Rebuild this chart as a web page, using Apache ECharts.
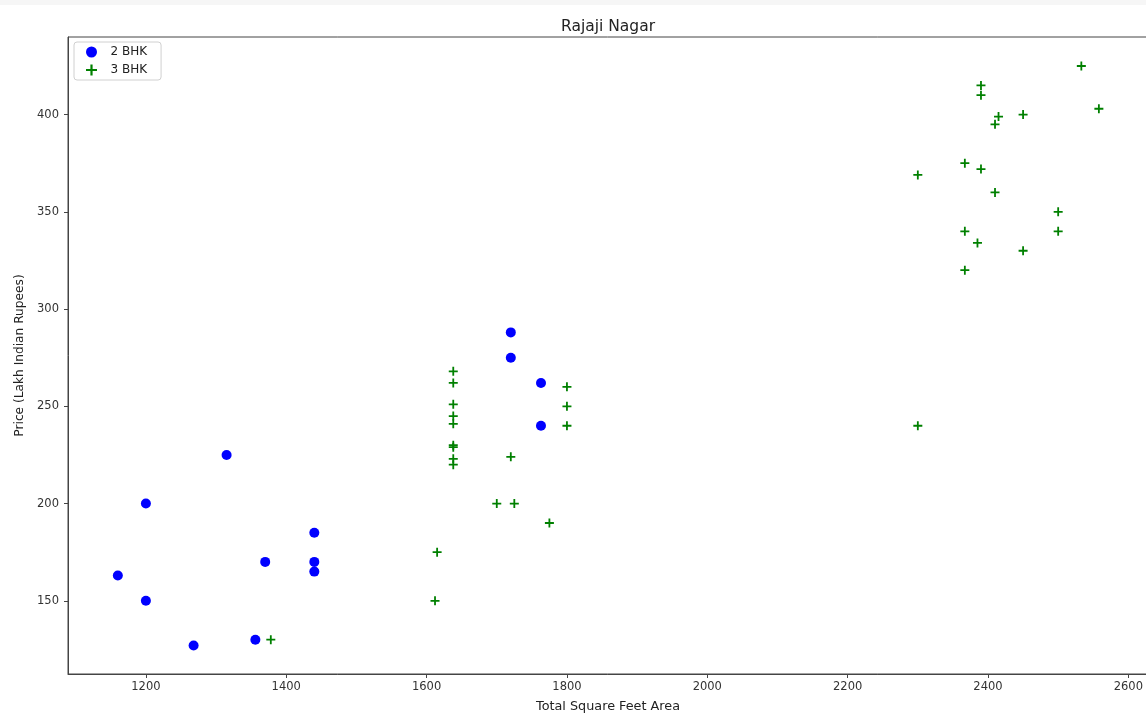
<!DOCTYPE html>
<html>
<head>
<meta charset="utf-8">
<script src="https://cdn.jsdelivr.net/npm/echarts@6/dist/echarts.min.js"></script>
<style>html,body{margin:0;padding:0;background:#fff;}#c{width:1146px;height:715px;}</style>
</head>
<body>
<div id="c"></div>
<script>
var chartTitle = 'Rajaji Nagar';
var xName = 'Total Square Feet Area';
var yName = 'Price (Lakh Indian Rupees)';
var xTicks = [1200, 1400, 1600, 1800, 2000, 2200, 2400, 2600];
var yTicks = [150, 200, 250, 300, 350, 400];

var bhk2 = [
  [1315, 225], [1200, 200], [1440, 185], [1370, 170], [1440, 170],
  [1440, 165], [1160, 163], [1200, 150], [1268, 127], [1356, 130],
  [1720, 288], [1720, 275], [1763, 262], [1763, 240]
];
var bhk3 = [
  [1378, 130],
  [1638, 268], [1638, 262], [1638, 251], [1638, 245], [1638, 241],
  [1638, 230], [1638, 229], [1638, 223], [1638, 220],
  [1800, 260], [1800, 250], [1800, 240], [1720, 224],
  [1700, 200], [1725, 200], [1775, 190], [1615, 175], [1612, 150],
  [2533, 425], [2390, 415], [2390, 410], [2558, 403], [2415, 399],
  [2450, 400], [2410, 395], [2367, 375], [2390, 372], [2300, 369],
  [2410, 360], [2500, 350], [2500, 340], [2367, 340], [2385, 334],
  [2450, 330], [2367, 320], [2300, 240]
];

var plusPath = 'path://M4,0 h2 v4 h4 v2 h-4 v4 h-2 v-4 h-4 v-2 h4 z';
var font = 'DejaVu Sans';
var chart = echarts.init(document.getElementById('c'), null, {renderer: 'canvas'});
chart.setOption({
  animation: false,
  backgroundColor: '#fff',
  graphic: [{type: 'rect', shape: {x: 0, y: 0, width: 1146, height: 5}, style: {fill: '#f6f6f6'}, silent: true}],
  title: {
    text: chartTitle, left: 561, top: 19, padding: 0,
    textStyle: {fontFamily: font, fontSize: 15.5, fontWeight: 'normal', color: '#222'}
  },
  legend: {
    orient: 'vertical', left: 74, top: 42,
    padding: [4, 14, 4, 12], itemGap: 6, itemWidth: 12, itemHeight: 11,
    borderColor: '#d0d0d0', borderWidth: 1, borderRadius: 3,
    textStyle: {fontFamily: font, fontSize: 12, color: '#222', padding: [0, 0, 0, 8]},
    data: [
      {name: '2 BHK', icon: 'circle', itemStyle: {color: '#0000ff'}},
      {name: '3 BHK', icon: plusPath, itemStyle: {color: '#008000'}}
    ]
  },
  grid: {left: 68, right: -2, top: 37, bottom: 41, show: true, borderColor: '#444', borderWidth: 1,
         containLabel: false, outerBoundsMode: 'none'},
  xAxis: {
    type: 'value', min: 1089, max: 2628,
    name: xName, nameLocation: 'middle', nameGap: 26,
    nameTextStyle: {fontFamily: font, fontSize: 12.8, color: '#222'},
    splitLine: {show: false},
    axisLine: {show: true, lineStyle: {color: '#444'}},
    axisTick: {show: true, length: 4, lineStyle: {color: '#444'}, customValues: xTicks},
    axisLabel: {fontFamily: font, fontSize: 11.5, color: '#333', margin: 7, customValues: xTicks,
                formatter: function (v) { return String(v); }}
  },
  yAxis: {
    type: 'value', min: 112.35, max: 439.9,
    name: yName, nameLocation: 'middle', nameGap: 40, nameRotate: 90,
    nameTextStyle: {fontFamily: font, fontSize: 12.2, color: '#222'},
    splitLine: {show: false},
    axisLine: {show: true, lineStyle: {color: '#444'}},
    axisTick: {show: true, length: 4, lineStyle: {color: '#444'}, customValues: yTicks},
    axisLabel: {fontFamily: font, fontSize: 11.5, color: '#333', margin: 9, customValues: yTicks,
                formatter: function (v) { return String(v); }}
  },
  series: [
    {name: '2 BHK', type: 'scatter', data: bhk2, symbol: 'circle', symbolSize: 10,
     itemStyle: {color: '#0000ff', opacity: 1}},
    {name: '3 BHK', type: 'scatter', data: bhk3, symbol: plusPath, symbolSize: 9,
     itemStyle: {color: '#008000', opacity: 1}}
  ]
});
</script>
</body>
</html>
